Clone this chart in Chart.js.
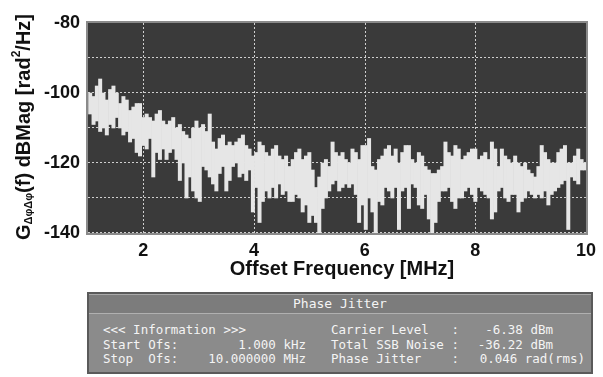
<!DOCTYPE html>
<html>
<head>
<meta charset="utf-8">
<script src="https://cdn.jsdelivr.net/npm/chart.js@4/dist/chart.umd.min.js"></script>
<style>
  html, body { margin: 0; padding: 0; background: #fff; }
  #wrap { position: relative; width: 603px; height: 377px; overflow: hidden; }
  #plotBox { position: absolute; left: 0; top: 0; width: 603px; height: 290px; }
  #panel {
    position: absolute; left: 87px; top: 292px; width: 506px; height: 82px;
    background: #8b8b8b; border: 2px solid #5a5a5a; box-sizing: border-box;
    font-family: "DejaVu Sans Mono", monospace; font-size: 12.5px; color: #f4f4f4;
  }
  #panel .head {
    height: 18px; line-height: 17px; text-align: center; background: #7c7c7c;
    border-bottom: 1px solid #b0b0b0; border-top: 1px solid #a8a8a8; font-size: 13px;
  }
  #panel .row { position: absolute; white-space: pre; }
</style>
</head>
<body>
<div id="wrap">
  <div id="plotBox"><canvas id="grafico"></canvas></div>
  <div id="panel">
    <div class="head">Phase Jitter</div>
    <div class="row" style="left:14px;top:28px">&lt;&lt;&lt; Information &gt;&gt;&gt;</div>
    <div class="row" style="left:14px;top:43px">Start Ofs:</div>
    <div class="row" style="left:14px;top:57px">Stop  Ofs:</div>
    <div class="row" style="right:285px;top:43px">1.000 kHz</div>
    <div class="row" style="right:285px;top:57px">10.000000 MHz</div>
    <div class="row" style="left:242px;top:28px">Carrier Level   :</div>
    <div class="row" style="left:242px;top:43px">Total SSB Noise :</div>
    <div class="row" style="left:242px;top:57px">Phase Jitter    :</div>
    <div class="row" style="right:38px;top:28px">-6.38 dBm</div>
    <div class="row" style="right:38px;top:43px">-36.22 dBm</div>
    <div class="row" style="right:6px;top:57px">0.046 rad(rms)</div>
  </div>
</div>
<script>
// Frequências de offset (MHz)
const freqMHz = [
  1.04,1.10,1.16,1.22,1.28,1.34,1.40,1.46,1.52,1.58,
  1.64,1.70,1.76,1.82,1.88,1.94,2.00,2.06,2.12,2.18,
  2.24,2.30,2.36,2.42,2.48,2.54,2.60,2.66,2.72,2.78,
  2.84,2.90,2.96,3.02,3.08,3.14,3.20,3.26,3.32,3.38,
  3.44,3.50,3.56,3.62,3.68,3.74,3.80,3.86,3.92,3.98,
  4.04,4.10,4.16,4.22,4.28,4.34,4.40,4.46,4.52,4.58,
  4.64,4.70,4.76,4.82,4.88,4.94,5.00,5.06,5.12,5.18,
  5.24,5.30,5.36,5.42,5.48,5.54,5.60,5.66,5.72,5.78,
  5.84,5.90,5.96,6.02,6.08,6.14,6.20,6.26,6.32,6.38,
  6.44,6.50,6.56,6.62,6.68,6.74,6.80,6.86,6.92,6.98,
  7.04,7.10,7.16,7.22,7.28,7.34,7.40,7.46,7.52,7.58,
  7.64,7.70,7.76,7.82,7.88,7.94,8.00,8.06,8.12,8.18,
  8.24,8.30,8.36,8.42,8.48,8.54,8.60,8.66,8.72,8.78,
  8.84,8.90,8.96,9.02,9.08,9.14,9.20,9.26,9.32,9.38,
  9.44,9.50,9.56,9.62,9.68,9.74,9.80,9.86,9.92,9.98
];

// Envelope superior do traço (dB)
const nivelAlto = [
  -100,-101,-98,-96,-100,-102,-99,-98,-100,-103,
  -101,-102,-105,-104,-103,-103,-107,-106,-107,-108,
  -106,-105,-108,-109,-108,-107,-110,-109,-111,-112,
  -113,-110,-108,-110,-109,-111,-106,-114,-116,-113,
  -112,-115,-114,-115,-114,-113,-112,-115,-116,-118,
  -117,-114,-115,-117,-118,-116,-115,-118,-119,-118,
  -121,-119,-117,-116,-119,-118,-117,-122,-127,-124,
  -120,-119,-121,-114,-117,-118,-117,-119,-120,-116,
  -117,-119,-115,-115,-113,-121,-122,-119,-118,-116,
  -115,-118,-116,-120,-117,-115,-115,-119,-120,-117,
  -118,-121,-122,-123,-123,-122,-121,-114,-117,-118,
  -115,-116,-119,-118,-117,-116,-116,-119,-118,-117,
  -119,-114,-116,-121,-116,-118,-119,-120,-118,-120,
  -121,-120,-122,-123,-124,-121,-115,-117,-119,-120,
  -120,-117,-116,-115,-120,-120,-118,-116,-119,-120
];

// Envelope inferior do traço (dB)
const nivelBaixo = [
  -106,-109,-108,-111,-110,-112,-109,-110,-107,-110,
  -112,-111,-114,-113,-117,-118,-115,-116,-113,-124,
  -117,-119,-116,-119,-117,-116,-119,-125,-120,-130,
  -124,-128,-130,-131,-121,-122,-124,-126,-128,-123,
  -121,-128,-125,-121,-120,-124,-123,-125,-122,-134,
  -127,-137,-131,-128,-130,-127,-130,-126,-129,-128,
  -131,-131,-129,-130,-134,-132,-137,-135,-137,-140,
  -133,-130,-128,-126,-125,-128,-127,-126,-127,-126,
  -129,-137,-132,-139,-130,-134,-140,-131,-132,-127,
  -128,-130,-127,-139,-128,-127,-133,-126,-127,-132,
  -133,-129,-136,-140,-137,-131,-128,-128,-127,-131,
  -133,-130,-130,-128,-127,-129,-131,-127,-128,-129,
  -130,-136,-134,-128,-127,-130,-131,-129,-129,-134,
  -131,-130,-128,-129,-130,-129,-130,-128,-132,-129,
  -128,-127,-126,-125,-139,-124,-125,-126,-122,-122
];

const xTicks = [2, 4, 6, 8, 10];
const yGrade = [-140, -130, -120, -110, -100, -90, -80];
const yTicksRotulados = [-80, -100, -120, -140];

const dadosTraco = freqMHz.map((f, i) => ({ x: f, y: [nivelBaixo[i], nivelAlto[i]] }));

const fonteEixo = 'Liberation Sans, Arial, sans-serif';

// Fundo escuro, grade pontilhada, borda e títulos dos eixos
const pluginTela = {
  id: 'tela',
  beforeDraw(chart) {
    const { ctx, chartArea: a } = chart;
    ctx.save();
    ctx.fillStyle = '#3a3a3a';
    ctx.fillRect(a.left, a.top, a.right - a.left, a.bottom - a.top);
    ctx.restore();
  },
  beforeDatasetsDraw(chart) {
    const { ctx, chartArea: a, scales } = chart;
    ctx.save();
    ctx.strokeStyle = '#cfcfcf';
    ctx.lineWidth = 1;
    ctx.setLineDash([2, 2]);
    xTicks.forEach(v => {
      const px = Math.round(scales.x.getPixelForValue(v)) + 0.5;
      ctx.beginPath(); ctx.moveTo(px, a.top); ctx.lineTo(px, a.bottom); ctx.stroke();
    });
    yGrade.forEach(v => {
      const py = Math.round(scales.y.getPixelForValue(v)) - 0.5;
      ctx.beginPath(); ctx.moveTo(a.left, py); ctx.lineTo(a.right, py); ctx.stroke();
    });
    ctx.restore();
  },
  afterDraw(chart) {
    const { ctx, chartArea: a } = chart;
    ctx.save();
    ctx.strokeStyle = '#8a8a8a';
    ctx.lineWidth = 2;
    ctx.strokeRect(a.left - 1, a.top - 1, a.right - a.left + 2, a.bottom - a.top + 2);

    // título eixo x
    ctx.fillStyle = '#111';
    ctx.font = 'bold 20px ' + fonteEixo;
    ctx.textAlign = 'center';
    ctx.textBaseline = 'middle';
    ctx.fillText('Offset Frequency [MHz]', 342, 269);

    // título eixo y com subscrito e sobrescrito
    const partes = [
      { t: 'G', f: 'bold 20px ', dy: 0 },
      { t: 'ΔφΔφ', f: 'bold 11px ', dy: 5 },
      { t: '(f) dBMag [rad', f: 'bold 20px ', dy: 0 },
      { t: '2', f: 'bold 12px ', dy: -7 },
      { t: '/Hz]', f: 'bold 20px ', dy: 0 }
    ];
    let total = 0;
    partes.forEach(p => { ctx.font = p.f + fonteEixo; p.w = ctx.measureText(p.t).width; total += p.w; });
    ctx.translate(24, 127);
    ctx.rotate(-Math.PI / 2);
    ctx.textAlign = 'left';
    ctx.textBaseline = 'middle';
    let x = -total / 2;
    partes.forEach(p => {
      ctx.font = p.f + fonteEixo;
      ctx.fillText(p.t, x, p.dy);
      x += p.w;
    });
    ctx.restore();
  }
};

const configGrafico = {
  type: 'bar',
  data: {
    datasets: [{
      data: dadosTraco,
      backgroundColor: '#e6e6e6',
      borderWidth: 0,
      barPercentage: 1.0,
      categoryPercentage: 1.0
    }]
  },
  options: {
    responsive: true,
    maintainAspectRatio: false,
    animation: false,
    layout: { padding: { top: 23, right: 6, left: 0, bottom: 0 } },
    plugins: { legend: { display: false }, tooltip: { enabled: false } },
    scales: {
      x: {
        type: 'linear',
        min: 1,
        max: 10,
        offset: false,
        afterBuildTicks: s => { s.ticks = xTicks.map(v => ({ value: v })); },
        afterFit: s => { s.height = 57; },
        ticks: { color: '#111', font: { family: fonteEixo, size: 18, weight: 'bold' }, padding: 7, maxRotation: 0 },
        grid: { display: false, drawTicks: false, offset: false },
        border: { display: false }
      },
      y: {
        min: -140,
        max: -80,
        afterBuildTicks: s => { s.ticks = yGrade.map(v => ({ value: v })); },
        afterFit: s => { s.width = 88; },
        ticks: {
          color: '#111',
          font: { family: fonteEixo, size: 18, weight: 'bold' },
          padding: 8,
          callback: v => yTicksRotulados.includes(v) ? String(v) : ''
        },
        grid: { display: false, drawTicks: false },
        border: { display: false }
      }
    }
  },
  plugins: [pluginTela]
};

const ctx = document.getElementById('grafico').getContext('2d');
new Chart(ctx, configGrafico);
</script>
</body>
</html>
